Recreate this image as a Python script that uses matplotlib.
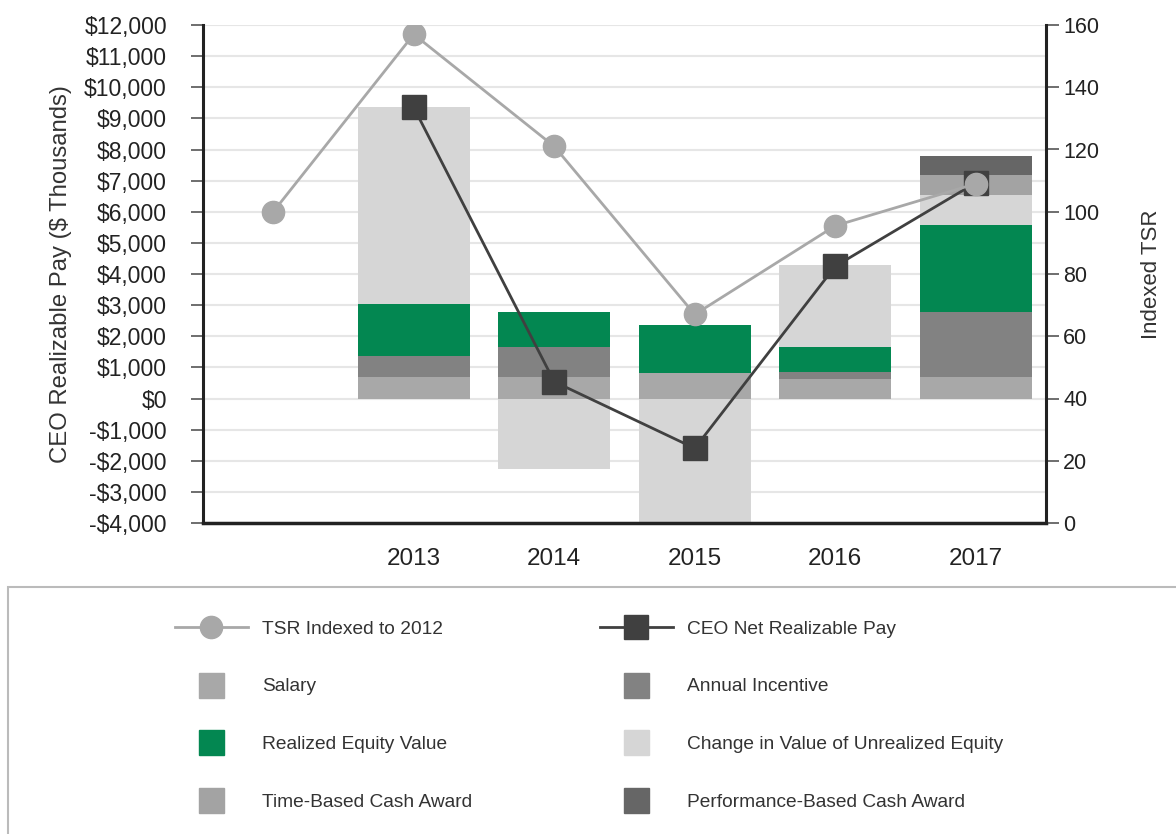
import matplotlib
matplotlib.use('Agg')
import matplotlib.pyplot as plt
from matplotlib.lines import Line2D
from matplotlib.patches import Rectangle
from matplotlib.ticker import FuncFormatter, MultipleLocator

plt.rcParams['font.family'] = ['Liberation Sans', 'DejaVu Sans']

# Data ($ thousands)
years = ['2012', '2013', '2014', '2015', '2016', '2017']
salary = [0, 700, 700, 830, 640, 700]
annual_incentive = [0, 650, 960, 0, 220, 2090]
realized_equity = [0, 1700, 1130, 1530, 800, 2770]
unrealized_change = [0, 6300, -2280, -4000, 2630, 980]
time_cash = [0, 0, 0, 0, 0, 630]
perf_cash = [0, 0, 0, 0, 0, 620]
net_pay_years = ['2013', '2014', '2015', '2016', '2017']
net_pay = [9350, 540, -1600, 4250, 6930]
tsr = [100, 157, 121, 67, 95.5, 109]

series = [
    ('Salary', salary, '#a8a8a8'),
    ('Annual Incentive', annual_incentive, '#828282'),
    ('Realized Equity Value', realized_equity, '#038751'),
    ('Change in Value of Unrealized Equity', unrealized_change, '#d6d6d6'),
    ('Time-Based Cash Award', time_cash, '#a3a3a3'),
    ('Performance-Based Cash Award', perf_cash, '#666666'),
]

fig = plt.figure(figsize=(11.76, 8.34), dpi=100)
ax = fig.add_axes([203/1176, 1 - 523/834, (1046 - 203)/1176, (523 - 25)/834])

x = list(range(len(years)))
pos_base = [0] * len(years)
neg_base = [0] * len(years)
for name, vals, color in series:
    bottoms = []
    for i, v in enumerate(vals):
        if v >= 0:
            bottoms.append(pos_base[i])
            pos_base[i] += v
        else:
            bottoms.append(neg_base[i])
            neg_base[i] += v
    ax.bar(x, vals, bottom=bottoms, width=0.8, color=color, zorder=2)

net_x = [years.index(y) for y in net_pay_years]
ax.plot(net_x, net_pay, color='#404040', lw=2, marker='s', markersize=17,
        markeredgecolor='#404040', zorder=4)

ax.set_xlim(-0.5, 5.5)
ax.set_ylim(-4000, 12000)
ax.yaxis.set_major_locator(MultipleLocator(1000))
ax.yaxis.set_major_formatter(FuncFormatter(
    lambda v, p: ('-$' if v < 0 else '$') + '{:,.0f}'.format(abs(v))))
ax.set_xticks(x[1:])
ax.set_xticklabels(years[1:])
ax.grid(axis='y', color='#e6e6e6', lw=1.5, zorder=0)
ax.set_axisbelow(True)
ax.tick_params(axis='y', labelsize=16.5, direction='out', length=9, width=1.2,
               color='#555555', pad=17, labelcolor='#222222')
ax.tick_params(axis='x', labelsize=17.5, length=0, pad=18, labelcolor='#222222')
ax.set_ylabel('CEO Realizable Pay ($ Thousands)', fontsize=17.2, color='#333333', labelpad=9)
for s in ['top', 'right']:
    ax.spines[s].set_visible(False)
ax.spines['left'].set_linewidth(2.2)
ax.spines['bottom'].set_linewidth(2.5)
ax.spines['left'].set_color('#222222')
ax.spines['bottom'].set_color('#222222')

ax2 = ax.twinx()
ax2.plot(x, tsr, color='#a8a8a8', lw=2, marker='o', markersize=16, zorder=5)
ax2.set_ylim(0, 160)
ax2.yaxis.set_major_locator(MultipleLocator(20))
ax2.tick_params(axis='y', labelsize=15.5, direction='out', length=9, width=1.2,
                color='#555555', labelcolor='#222222')
ax2.set_ylabel('Indexed TSR', fontsize=16, color='#333333', labelpad=30)
for s in ['top', 'left', 'bottom']:
    ax2.spines[s].set_visible(False)
ax2.spines['right'].set_linewidth(2.2)
ax2.spines['right'].set_color('#222222')

# legend box
fig.patches.append(Rectangle((8/1176, -0.1), 1.2, (834 - 587)/834 + 0.1,
                             transform=fig.transFigure, facecolor='none',
                             edgecolor='#bbbbbb', lw=1.5))

def handle_line(color, marker, ms):
    return Line2D([], [], color=color, lw=2, marker=marker, markersize=ms)

def handle_box(color):
    return Line2D([], [], color=color, lw=0, marker='s', markersize=18)

col1 = [(handle_line('#a8a8a8', 'o', 16), 'TSR Indexed to 2012')] + \
       [(handle_box(c), n) for n, v, c in series[0::2]]
col2 = [(handle_line('#404040', 's', 17), 'CEO Net Realizable Pay')] + \
       [(handle_box(c), n) for n, v, c in series[1::2]]

for col, left in [(col1, 175), (col2, 600)]:
    leg = fig.legend([h for h, n in col], [n for h, n in col],
                     loc='center left', bbox_to_anchor=(left/1176, 1 - 715.5/834),
                     frameon=False, fontsize=13.8, handlelength=3.8,
                     handletextpad=0.75, labelspacing=2.1, borderpad=0,
                     borderaxespad=0, labelcolor='#333333')

fig.savefig('out.png', dpi=100)
